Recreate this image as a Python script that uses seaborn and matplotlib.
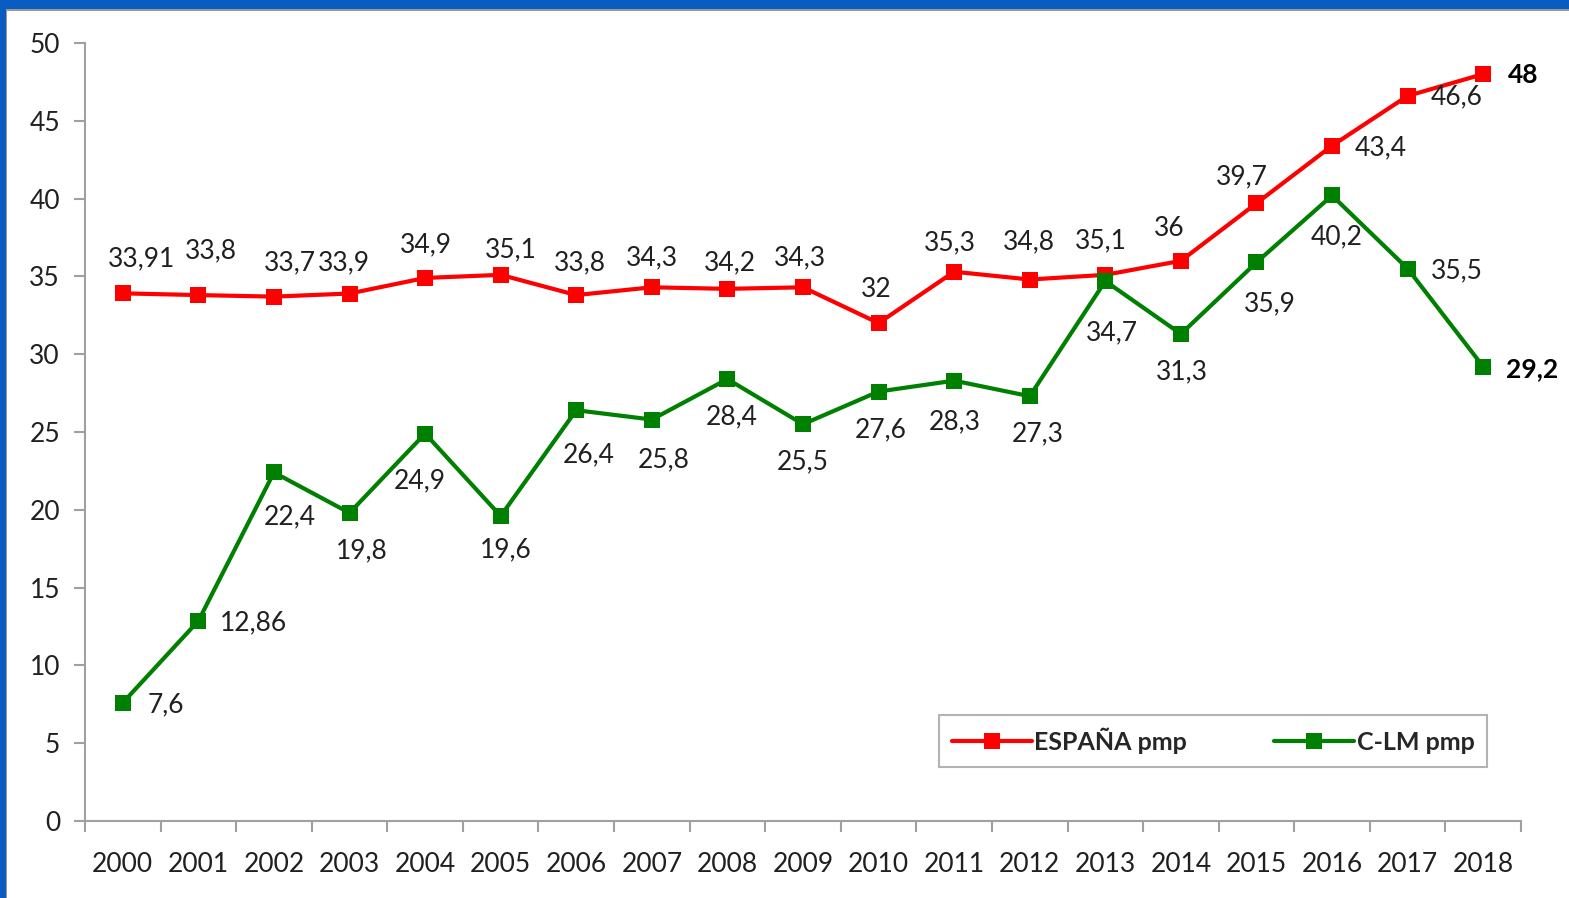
import numpy as np
import pandas as pd
import matplotlib.pyplot as plt
import matplotlib.patches as mpatches
from matplotlib.lines import Line2D
import seaborn as sns

years = [str(y) for y in range(2000, 2019)]
espana = [33.91, 33.8, 33.7, 33.9, 34.9, 35.1, 33.8, 34.3, 34.2, 34.3,
          32, 35.3, 34.8, 35.1, 36, 39.7, 43.4, 46.6, 48]
clm = [7.6, 12.86, 22.4, 19.8, 24.9, 19.6, 26.4, 25.8, 28.4, 25.5,
       27.6, 28.3, 27.3, 34.7, 31.3, 35.9, 40.2, 35.5, 29.2]
esp_labels = ['33,91', '33,8', '33,7', '33,9', '34,9', '35,1', '33,8', '34,3', '34,2', '34,3',
              '32', '35,3', '34,8', '35,1', '36', '39,7', '43,4', '46,6', '48']
clm_labels = ['7,6', '12,86', '22,4', '19,8', '24,9', '19,6', '26,4', '25,8', '28,4', '25,5',
              '27,6', '28,3', '27,3', '34,7', '31,3', '35,9', '40,2', '35,5', '29,2']

# desplazamiento de etiquetas (pixeles)
esp_off = [(19, -35), (13, -44), (16, -34), (-6, -31), (1, -33), (10, -25), (4, -32), (0, -29),
           (3, -26), (-3, -29), (-2, -34), (-4, -29), (-1, -38), (-5, -34), (-12, -32),
           (-15, -26), (49, 2), (49, 1), (40, 1)]
clm_off = [(43, 2), (55, 2), (16, 44), (12, 38), (-5, 47), (5, 34), (12, 45), (12, 40),
           (4, 38), (0, 38), (2, 38), (1, 41), (8, 38), (7, 52), (1, 38), (13, 41),
           (5, 41), (49, 2), (49, 2)]

df = pd.DataFrame({'year': years * 2,
                   'valor': espana + clm,
                   'serie': ['ESPAÑA pmp'] * len(years) + ['C-LM pmp'] * len(years)})

sns.set_style('white')
plt.rcParams['font.family'] = ['Lato', 'DejaVu Sans']

fig = plt.figure(figsize=(15.69, 8.98), dpi=100)
fig.patch.set_facecolor('#0a5cc0')
fig.patches.append(mpatches.Rectangle((6 / 1569, 0), 1, 1 - 9 / 898, transform=fig.transFigure,
                                      facecolor='#999999', edgecolor='none', zorder=-2))
fig.patches.append(mpatches.Rectangle((7 / 1569, 0), 1, 1 - 11 / 898, transform=fig.transFigure,
                                      facecolor='white', edgecolor='none', zorder=-1))

ax = fig.add_axes([85 / 1569, (898 - 821) / 898, (1521 - 85) / 1569, (821 - 43) / 898])
ax.set_facecolor('none')

colores = {'ESPAÑA pmp': '#ff0000', 'C-LM pmp': '#008000'}
sns.lineplot(data=df, x='year', y='valor', hue='serie', palette=colores, marker='s',
             markersize=12, markeredgewidth=0, linewidth=3, sort=False, legend=False, ax=ax)

ax.set_xlim(-0.5, len(years) - 0.5)
ax.set_ylim(0, 50)
ax.set_yticks(range(0, 51, 5))
ax.set_xticks(np.arange(len(years)))
ax.set_xticklabels(years)
ax.set_xticks(np.arange(-0.5, len(years)), minor=True)
ax.set_xlabel('')
ax.set_ylabel('')
for s in ['top', 'right']:
    ax.spines[s].set_visible(False)
for s in ['left', 'bottom']:
    ax.spines[s].set_color('#a0a0a0')
    ax.spines[s].set_linewidth(1.5)
ax.tick_params(axis='x', which='both', bottom=True)
ax.tick_params(axis='y', which='both', left=True)
ax.tick_params(axis='x', which='major', length=0, pad=22, labelsize=19, labelcolor='#202020')
ax.tick_params(axis='x', which='minor', length=8, width=1.5, color='#a0a0a0', direction='out')
ax.tick_params(axis='y', length=8, width=1.5, color='#a0a0a0', direction='out',
               labelsize=19, labelcolor='#202020', pad=10)
ax.grid(False)

for i in range(len(years)):
    bold = i == len(years) - 1
    ax.annotate(esp_labels[i], (i, espana[i]), xytext=(esp_off[i][0], -esp_off[i][1]),
                textcoords='offset pixels', ha='center', va='center', fontsize=19,
                color='#000000' if bold else '#202020', fontweight='bold' if bold else 'normal')
    ax.annotate(clm_labels[i], (i, clm[i]), xytext=(clm_off[i][0], -clm_off[i][1]),
                textcoords='offset pixels', ha='center', va='center', fontsize=19,
                color='#000000' if bold else '#202020', fontweight='bold' if bold else 'normal')

handles = [Line2D([], [], color=colores[k], marker='s', markersize=12, linewidth=3,
                  markeredgewidth=0, label=k) for k in ['ESPAÑA pmp', 'C-LM pmp']]
leg = ax.legend(handles=handles, loc='center', bbox_to_anchor=((1213 - 85) / 1436, (821 - 741) / 778),
                ncol=2, frameon=True, fancybox=False, edgecolor='#a0a0a0',
                prop={'weight': 'bold', 'size': 18}, handlelength=3.2, handletextpad=0.1,
                columnspacing=3.5, borderpad=0.5, borderaxespad=0)
leg.get_frame().set_linewidth(1.5)
leg.get_frame().set_facecolor('white')

fig.savefig('out.png', dpi=100)
